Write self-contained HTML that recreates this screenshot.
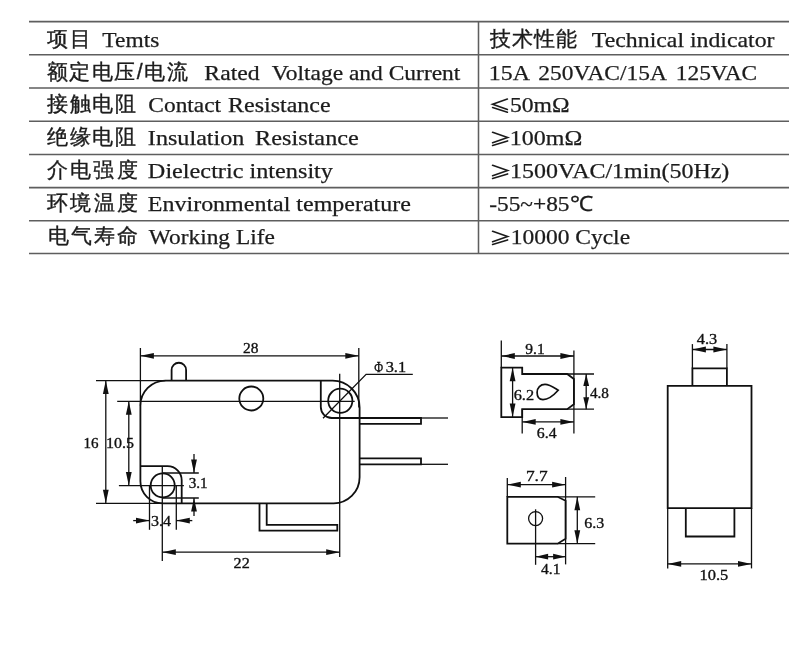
<!DOCTYPE html>
<html><head><meta charset="utf-8">
<style>
html,body{margin:0;padding:0;background:#fff;}
svg{display:block;will-change:transform;}
.t{font-family:"Liberation Serif",serif;font-size:21px;fill:#1c1c1c;stroke:#1c1c1c;stroke-width:0.25px;}
.c{font-family:"Liberation Sans",sans-serif;font-size:21.3px;fill:#1c1c1c;stroke:#1c1c1c;stroke-width:0.35px;}
.d{font-family:"Liberation Serif",serif;font-size:15.5px;fill:#111;stroke:#111;stroke-width:0.35px;}
</style></head><body>
<svg width="796" height="671" viewBox="0 0 796 671">
<g stroke="#5e5e5e" stroke-width="1.55">
<line x1="29" y1="21.6" x2="789" y2="21.6"/>
<line x1="29" y1="54.8" x2="789" y2="54.8"/>
<line x1="29" y1="88" x2="789" y2="88"/>
<line x1="29" y1="121.2" x2="789" y2="121.2"/>
<line x1="29" y1="154.4" x2="789" y2="154.4"/>
<line x1="29" y1="187.6" x2="789" y2="187.6"/>
<line x1="29" y1="220.8" x2="789" y2="220.8"/>
<line x1="29" y1="253.5" x2="789" y2="253.5"/>
<line x1="478.5" y1="21.6" x2="478.5" y2="253.5"/>
</g>
<g fill="none" stroke="#1c1c1c" stroke-width="1.6" stroke-linecap="round">
<path d="M507.4 99 L492.6 104.2 L507.4 109.4 M492.6 107.6 L507.4 112.2"/>
<path d="M492.6 132.3 L507.6 137.5 L492.6 142.7 M507.6 140.9 L492.6 145.4"/>
<path d="M492.6 165.3 L507.6 170.5 L492.6 175.7 M507.6 173.9 L492.6 178.4"/>
<path d="M492.6 231.3 L507.6 236.5 L492.6 241.7 M507.6 239.9 L492.6 244.4"/>
</g>
<text id="t0" class="c" x="47.00" y="45.80" textLength="44.44" lengthAdjust="spacing">项目</text>
<text id="t1" class="t" x="102.36" y="46.50" textLength="56.92" lengthAdjust="spacingAndGlyphs">Temts</text>
<text id="t2" class="c" x="489.70" y="45.80" textLength="87.29" lengthAdjust="spacing">技术性能</text>
<text id="t3" class="t" x="591.89" y="46.50" textLength="182.63" lengthAdjust="spacingAndGlyphs">Technical indicator</text>
<text id="t4" class="c" x="46.99" y="78.80" textLength="140.53" lengthAdjust="spacing">额定电压/电流</text>
<text id="t5" class="t" x="204.39" y="79.50" textLength="55.26" lengthAdjust="spacingAndGlyphs">Rated</text>
<text id="t6" class="t" x="271.78" y="79.50" textLength="188.63" lengthAdjust="spacingAndGlyphs">Voltage and Current</text>
<text id="t7" class="t" x="488.89" y="79.50" textLength="41.06" lengthAdjust="spacingAndGlyphs">15A</text>
<text id="t8" class="t" x="538.37" y="79.50" textLength="128.46" lengthAdjust="spacingAndGlyphs">250VAC/15A</text>
<text id="t9" class="t" x="675.78" y="79.50" textLength="81.37" lengthAdjust="spacingAndGlyphs">125VAC</text>
<text id="t10" class="c" x="47.15" y="111.30" textLength="88.86" lengthAdjust="spacing">接触电阻</text>
<text id="t11" class="t" x="148.38" y="112.00" textLength="72.75" lengthAdjust="spacingAndGlyphs">Contact</text>
<text id="t12" class="t" x="228.13" y="112.00" textLength="102.51" lengthAdjust="spacingAndGlyphs">Resistance</text>
<text id="t13" class="t" x="509.96" y="112.00" textLength="59.64" lengthAdjust="spacingAndGlyphs">50mΩ</text>
<text id="t14" class="c" x="47.17" y="144.30" textLength="88.89" lengthAdjust="spacing">绝缘电阻</text>
<text id="t15" class="t" x="147.88" y="145.00" textLength="96.55" lengthAdjust="spacingAndGlyphs">Insulation</text>
<text id="t16" class="t" x="255.06" y="145.00" textLength="103.77" lengthAdjust="spacingAndGlyphs">Resistance</text>
<text id="t17" class="t" x="509.87" y="145.00" textLength="72.49" lengthAdjust="spacingAndGlyphs">100mΩ</text>
<text id="t18" class="c" x="47.16" y="177.30" textLength="90.38" lengthAdjust="spacing">介电强度</text>
<text id="t19" class="t" x="147.88" y="178.00" textLength="185.12" lengthAdjust="spacingAndGlyphs">Dielectric intensity</text>
<text id="t20" class="t" x="509.97" y="178.00" textLength="219.36" lengthAdjust="spacingAndGlyphs">1500VAC/1min(50Hz)</text>
<text id="t21" class="c" x="47.17" y="210.30" textLength="90.84" lengthAdjust="spacing">环境温度</text>
<text id="t22" class="t" x="147.88" y="211.00" textLength="262.93" lengthAdjust="spacingAndGlyphs">Environmental temperature</text>
<text id="t23" class="t" x="489.18" y="211.00" textLength="103.76" lengthAdjust="spacingAndGlyphs">-55~+85℃</text>
<text id="t24" class="c" x="48.00" y="243.30" textLength="89.59" lengthAdjust="spacing">电气寿命</text>
<text id="t25" class="t" x="148.88" y="244.00" textLength="125.94" lengthAdjust="spacingAndGlyphs">Working Life</text>
<text id="t26" class="t" x="510.72" y="244.00" textLength="119.33" lengthAdjust="spacingAndGlyphs">10000 Cycle</text>
<text id="t27" class="d" x="243.00" y="353.00" textLength="15.45" lengthAdjust="spacingAndGlyphs">28</text>
<text id="t28" class="d" x="83.60" y="447.70" textLength="15.05" lengthAdjust="spacingAndGlyphs">16</text>
<text id="t29" class="d" x="105.96" y="447.70" textLength="28.04" lengthAdjust="spacingAndGlyphs">10.5</text>
<text id="t30" class="d" x="374.15" y="372.00" textLength="8.85" lengthAdjust="spacingAndGlyphs">Φ</text>
<text id="t31" class="d" x="385.68" y="372.00" textLength="20.42" lengthAdjust="spacingAndGlyphs">3.1</text>
<text id="t32" class="d" x="233.57" y="567.60" textLength="16.14" lengthAdjust="spacingAndGlyphs">22</text>
<text id="t33" class="d" x="150.92" y="526.00" textLength="20.08" lengthAdjust="spacingAndGlyphs">3.4</text>
<text id="t34" class="d" x="188.63" y="488.20" textLength="18.95" lengthAdjust="spacingAndGlyphs">3.1</text>
<text id="t35" class="d" x="525.33" y="353.80" textLength="19.42" lengthAdjust="spacingAndGlyphs">9.1</text>
<text id="t36" class="d" x="513.73" y="400.10" textLength="20.39" lengthAdjust="spacingAndGlyphs">6.2</text>
<text id="t37" class="d" x="589.92" y="397.80" textLength="19.08" lengthAdjust="spacingAndGlyphs">4.8</text>
<text id="t38" class="d" x="536.89" y="437.70" textLength="19.79" lengthAdjust="spacingAndGlyphs">6.4</text>
<text id="t39" class="d" x="525.93" y="481.10" textLength="21.74" lengthAdjust="spacingAndGlyphs">7.7</text>
<text id="t40" class="d" x="584.34" y="527.60" textLength="19.98" lengthAdjust="spacingAndGlyphs">6.3</text>
<text id="t41" class="d" x="541.00" y="573.70" textLength="19.49" lengthAdjust="spacingAndGlyphs">4.1</text>
<text id="t42" class="d" x="696.78" y="343.60" textLength="20.44" lengthAdjust="spacingAndGlyphs">4.3</text>
<text id="t43" class="d" x="699.43" y="579.60" textLength="28.80" lengthAdjust="spacingAndGlyphs">10.5</text>
<g fill="none" stroke="#101010" stroke-linecap="butt">
<path d="M140.4,405.6 A25,25 0 0 1 165.4,380.6 H332.6 A27,27 0 0 1 359.6,407.6 V477.3 A26,26 0 0 1 333.6,503.3 H162.4 A22,22 0 0 1 140.4,481.3 Z" stroke-width="1.8"/>
<path d="M171.6,380.6 V370 A7.25,7.25 0 0 1 186.1,370 V380.6" stroke-width="1.8"/>
<circle cx="251.3" cy="398.5" r="12" stroke-width="1.8"/>
<path d="M320.8,380.6 V407 A11,11 0 0 0 331.8,418 H359.6" stroke-width="1.8"/>
<circle cx="340.3" cy="400.8" r="12.1" stroke-width="1.8"/>
<path d="M359.6,418 H421 V423.9 H359.6" stroke-width="1.8"/>
<line x1="421" y1="418" x2="448" y2="418" stroke-width="1.3"/>
<path d="M359.6,458.4 H421 V464.3 H359.6" stroke-width="1.8"/>
<line x1="421" y1="464.3" x2="448" y2="464.3" stroke-width="1.3"/>
<path d="M259.5,503.3 V530.6 H337.3 V524.9 H266.7 V503.3" stroke-width="1.8"/>
<path d="M140.4,466.2 H167.6 A14.1,14.1 0 0 1 181.7,480.3 V503.3" stroke-width="1.8"/>
<circle cx="162.7" cy="485.4" r="12" stroke-width="1.8"/>
<line x1="140.4" y1="348" x2="140.4" y2="405.6" stroke-width="1.3"/>
<line x1="358.8" y1="348" x2="358.8" y2="407.6" stroke-width="1.3"/>
<line x1="140.4" y1="355.8" x2="358.8" y2="355.8" stroke-width="1.3"/>
<path d="M140.40,355.80 L153.90,352.90 L153.90,358.70 Z" fill="#101010" stroke="none"/>
<path d="M358.80,355.80 L345.30,358.70 L345.30,352.90 Z" fill="#101010" stroke="none"/>
<line x1="96" y1="380.6" x2="165.4" y2="380.6" stroke-width="1.3"/>
<line x1="96" y1="503.3" x2="162.4" y2="503.3" stroke-width="1.3"/>
<line x1="105.8" y1="380.6" x2="105.8" y2="503.3" stroke-width="1.3"/>
<path d="M105.80,380.60 L108.70,394.10 L102.90,394.10 Z" fill="#101010" stroke="none"/>
<path d="M105.80,503.30 L102.90,489.80 L108.70,489.80 Z" fill="#101010" stroke="none"/>
<line x1="117.2" y1="401.3" x2="354.7" y2="401.3" stroke-width="1.3"/>
<line x1="118.9" y1="485.6" x2="183.9" y2="485.6" stroke-width="1.3"/>
<line x1="128.8" y1="401.3" x2="128.8" y2="485.6" stroke-width="1.3"/>
<path d="M128.80,401.30 L131.70,414.80 L125.90,414.80 Z" fill="#101010" stroke="none"/>
<path d="M128.80,485.60 L125.90,472.10 L131.70,472.10 Z" fill="#101010" stroke="none"/>
<line x1="339.7" y1="373.8" x2="339.7" y2="557" stroke-width="1.3"/>
<path d="M323,418.2 L366.1,374.4 H412.8" stroke-width="1.3"/>
<line x1="162.3" y1="466.2" x2="162.3" y2="561" stroke-width="1.3"/>
<line x1="162.3" y1="552.2" x2="339.7" y2="552.2" stroke-width="1.3"/>
<path d="M162.30,552.20 L175.80,549.30 L175.80,555.10 Z" fill="#101010" stroke="none"/>
<path d="M339.70,552.20 L326.20,555.10 L326.20,549.30 Z" fill="#101010" stroke="none"/>
<line x1="149.5" y1="485.7" x2="149.5" y2="529.8" stroke-width="1.3"/>
<line x1="176.3" y1="485.7" x2="176.3" y2="529.8" stroke-width="1.3"/>
<line x1="133.2" y1="520.6" x2="149.5" y2="520.6" stroke-width="1.3"/>
<path d="M149.50,520.60 L136.00,523.50 L136.00,517.70 Z" fill="#101010" stroke="none"/>
<line x1="176.3" y1="520.6" x2="192.3" y2="520.6" stroke-width="1.3"/>
<path d="M176.30,520.60 L189.80,517.70 L189.80,523.50 Z" fill="#101010" stroke="none"/>
<line x1="163" y1="473" x2="198.8" y2="473" stroke-width="1.3"/>
<line x1="163" y1="498" x2="198.8" y2="498" stroke-width="1.3"/>
<line x1="194" y1="454" x2="194" y2="473" stroke-width="1.3"/>
<path d="M194.00,473.00 L191.10,459.50 L196.90,459.50 Z" fill="#101010" stroke="none"/>
<line x1="194" y1="498" x2="194" y2="516" stroke-width="1.3"/>
<path d="M194.00,498.00 L196.90,511.50 L191.10,511.50 Z" fill="#101010" stroke="none"/>
<line x1="501.3" y1="340.6" x2="501.3" y2="367.7" stroke-width="1.3"/>
<path d="M501.3,367.7 V417.1 H522.2 V409.2 H567.2 L573.9,404.2 V379 L567.2,374 H522.2 V367.7 Z" stroke-width="1.8"/>
<path d="M567.2,374 H594 M567.2,409.2 H594" stroke-width="1.3"/>
<line x1="573.9" y1="350.4" x2="573.9" y2="433.5" stroke-width="1.3"/>
<line x1="522.2" y1="409.2" x2="522.2" y2="433.5" stroke-width="1.3"/>
<line x1="501.3" y1="356" x2="573.9" y2="356" stroke-width="1.3"/>
<path d="M501.30,356.00 L514.80,353.10 L514.80,358.90 Z" fill="#101010" stroke="none"/>
<path d="M573.90,356.00 L560.40,358.90 L560.40,353.10 Z" fill="#101010" stroke="none"/>
<line x1="512.6" y1="367.7" x2="512.6" y2="417.1" stroke-width="1.3"/>
<path d="M512.60,367.70 L515.50,381.20 L509.70,381.20 Z" fill="#101010" stroke="none"/>
<path d="M512.60,417.10 L509.70,403.60 L515.50,403.60 Z" fill="#101010" stroke="none"/>
<line x1="586.2" y1="374" x2="586.2" y2="409.2" stroke-width="1.3"/>
<path d="M586.20,374.00 L589.10,386.00 L583.30,386.00 Z" fill="#101010" stroke="none"/>
<path d="M586.20,409.20 L583.30,397.20 L589.10,397.20 Z" fill="#101010" stroke="none"/>
<line x1="522.2" y1="421.9" x2="573.9" y2="421.9" stroke-width="1.3"/>
<path d="M522.20,421.90 L535.70,419.00 L535.70,424.80 Z" fill="#101010" stroke="none"/>
<path d="M573.90,421.90 L560.40,424.80 L560.40,419.00 Z" fill="#101010" stroke="none"/>
<path d="M558.2,390.2 C553,396 548,399.6 543,399.6 C539,399.6 537.1,397 537.1,392.5 C537.1,387.5 540.5,384.4 545,384.4 C549.5,384.4 553,387 558.2,390.2 Z" stroke-width="1.7"/>
<line x1="507.3" y1="478" x2="507.3" y2="496.8" stroke-width="1.3"/>
<path d="M507.3,496.8 V543.7 H557.6 L565.6,538.8 V500.8 L557.6,496.8 Z" stroke-width="1.8"/>
<path d="M557.6,496.8 H595.2 M557.6,543.7 H595.2" stroke-width="1.3"/>
<line x1="565.6" y1="477" x2="565.6" y2="564.4" stroke-width="1.3"/>
<line x1="507.3" y1="484.7" x2="565.6" y2="484.7" stroke-width="1.3"/>
<path d="M507.30,484.70 L520.80,481.80 L520.80,487.60 Z" fill="#101010" stroke="none"/>
<path d="M565.60,484.70 L552.10,487.60 L552.10,481.80 Z" fill="#101010" stroke="none"/>
<line x1="577.3" y1="496.8" x2="577.3" y2="543.7" stroke-width="1.3"/>
<path d="M577.30,496.80 L580.20,510.30 L574.40,510.30 Z" fill="#101010" stroke="none"/>
<path d="M577.30,543.70 L574.40,530.20 L580.20,530.20 Z" fill="#101010" stroke="none"/>
<circle cx="535.6" cy="518.6" r="7" stroke-width="1.3"/>
<line x1="535.6" y1="509.3" x2="535.6" y2="564.8" stroke-width="1.3"/>
<line x1="535.6" y1="556.7" x2="565.6" y2="556.7" stroke-width="1.3"/>
<path d="M535.60,556.70 L548.10,553.80 L548.10,559.60 Z" fill="#101010" stroke="none"/>
<path d="M565.60,556.70 L553.10,559.60 L553.10,553.80 Z" fill="#101010" stroke="none"/>
<path d="M667.7,385.8 H751.5 V508.1 H667.7 Z" stroke-width="1.8"/>
<path d="M692.4,385.8 V368.3 H726.9 V385.8" stroke-width="1.8"/>
<line x1="692.4" y1="344.1" x2="692.4" y2="368.3" stroke-width="1.3"/>
<line x1="726.9" y1="344.1" x2="726.9" y2="368.3" stroke-width="1.3"/>
<line x1="692.4" y1="349.5" x2="726.9" y2="349.5" stroke-width="1.3"/>
<path d="M692.40,349.50 L705.90,346.60 L705.90,352.40 Z" fill="#101010" stroke="none"/>
<path d="M726.90,349.50 L713.40,352.40 L713.40,346.60 Z" fill="#101010" stroke="none"/>
<path d="M685.8,508.1 V536.5 H734.4 V508.1" stroke-width="1.8"/>
<line x1="667.7" y1="508.1" x2="667.7" y2="568.4" stroke-width="1.3"/>
<line x1="751.5" y1="508.1" x2="751.5" y2="568.4" stroke-width="1.3"/>
<line x1="667.7" y1="563.9" x2="751.5" y2="563.9" stroke-width="1.3"/>
<path d="M667.70,563.90 L681.20,561.00 L681.20,566.80 Z" fill="#101010" stroke="none"/>
<path d="M751.50,563.90 L738.00,566.80 L738.00,561.00 Z" fill="#101010" stroke="none"/>
</g>
</svg>
</body></html>
